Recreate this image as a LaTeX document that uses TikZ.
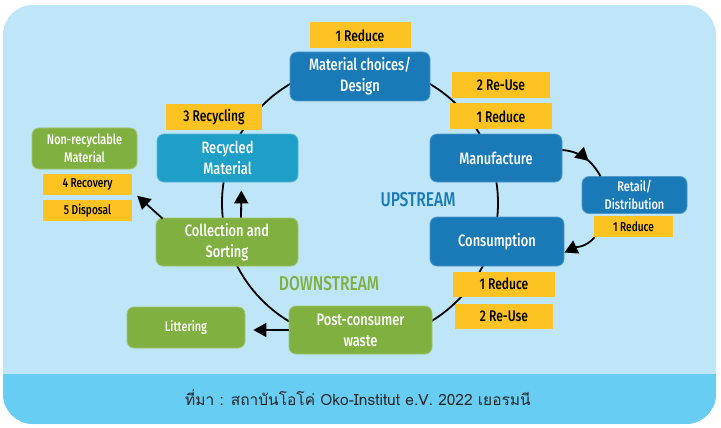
\documentclass[tikz,border=0pt]{standalone}
\usepackage{fontspec}
\setmainfont{Fira Sans}[FakeStretch=0.78,UprightFont=* Medium]
\newfontfamily\thaifont[Script=Thai]{Loma}
\usetikzlibrary{arrows.meta,positioning,decorations.markings}
\definecolor{skyback}{RGB}{190,229,248}
\definecolor{skyfoot}{RGB}{103,205,243}
\definecolor{upblue}{RGB}{26,122,184}
\definecolor{tealblue}{RGB}{30,159,199}
\definecolor{leafgreen}{RGB}{128,176,64}
\definecolor{amber}{RGB}{253,195,35}

\begin{document}
\begin{tikzpicture}[x=1pt,y=-1pt,node distance=4pt and 4pt]

\tikzset{stagenode/.style={shape=rectangle,rounded corners=7pt,fill=#1,draw=#1!75!white,line width=0.8pt,text=white,align=center,inner sep=1pt,font=\fontsize{16.5}{21}\selectfont},
smallstage/.style={stagenode=#1,font=\fontsize{14}{18.5}\selectfont},
tagnode/.style={fill=amber,text=black,inner sep=0pt,font=\fontsize{15.5}{16}\selectfont},
smalltag/.style={tagnode,font=\fontsize{13}{14}\selectfont},
cycleline/.style={line width=1.8pt},
arrowline/.style={cycleline,-{Triangle[length=13pt,width=14pt]}},
midarrow/.style={cycleline,postaction={decorate},decoration={markings,mark=at position 0.6 with {\arrow{Triangle[length=13pt,width=14pt]}}}}}

\useasboundingbox (0,0) rectangle (721,428);

% Background
\fill[skyback,rounded corners=30pt] (3,5) rectangle (716,424);
\begin{scope}
\clip[rounded corners=30pt] (3,5) rectangle (716,424);
\fill[skyfoot] (3,374) rectangle (716,424);
\end{scope}

% Cycle
\coordinate (hub) at (360,203);
\draw[cycleline] (hub) circle[radius=138pt];

% Upstream stages
\node[stagenode=upblue,minimum width=140pt,minimum height=49pt] (design) at (360,76.5) {Material choices/\\Design};
\node[stagenode=upblue,minimum width=132pt,minimum height=48pt] (manuf) at (496,158) {Manufacture};
\node[smallstage=upblue,minimum width=105pt,minimum height=37pt] (retail) at (634.5,195) {Retail/\\Distribution};
\node[stagenode=upblue,minimum width=134pt,minimum height=49pt] (cons) at (497,241.5) {Consumption};

% Downstream stages
\node[stagenode=leafgreen,minimum width=143pt,minimum height=48pt] (post) at (360.5,330) {Post-consumer\\waste};
\node[smallstage=leafgreen,minimum width=118pt,minimum height=41pt] (litter) at (186,327.5) {Littering};
\node[stagenode=leafgreen,minimum width=142pt,minimum height=48pt] (coll) at (227,242) {Collection and\\Sorting};
\node[smallstage=leafgreen,minimum width=105pt,minimum height=41pt] (nonrec) at (84.5,148.5) {Non-recyclable\\Material};
\node[stagenode=tealblue,minimum width=141pt,minimum height=48pt] (recycled) at (227.5,158) {Recycled\\Material};

% R-strategy tags
\node[tagnode,minimum width=101pt,minimum height=26pt,above=3pt of design] (cutA) {1 Reduce};
\node[tagnode,minimum width=96pt,minimum height=26pt] (recyc) at (214,117) {3 Recycling};
\node[tagnode,minimum width=102pt,minimum height=26pt,above=4pt of manuf,xshift=5pt] (cutB) {1 Reduce};
\node[tagnode,minimum width=98pt,minimum height=26pt,above=5pt of cutB] (reuseB) {2 Re-Use};
\node[smalltag,minimum width=79pt,minimum height=21pt,below=2pt of retail,xshift=-1pt] (cutC) {1 Reduce};
\node[tagnode,minimum width=102pt,minimum height=25pt,below=5pt of cons,xshift=7pt] (cutD) {1 Reduce};
\node[tagnode,minimum width=98pt,minimum height=25pt,below=7pt of cutD] (reuseD) {2 Re-Use};
\node[smalltag,minimum width=89pt,minimum height=21pt,below=4pt of nonrec,xshift=3pt] (rec4) {4 Recovery};
\node[smalltag,minimum width=89pt,minimum height=21pt,below=5pt of rec4] (disp5) {5 Disposal};

% Arrows
\draw[midarrow] ([yshift=8pt]manuf.east) to[out=-5,in=120] ([xshift=-34pt]retail.north);
\draw[arrowline] ([xshift=-39pt]cutC.south) to[out=-130,in=25] ([yshift=-11pt]cons.east);
\draw[arrowline,shorten >=8pt] (post.west) -- (litter.east |- post.west);
\draw[arrowline,shorten >=8pt] ([xshift=14pt]coll.north) -- ([xshift=14pt]recycled.south);
\draw[arrowline] ([xshift=7pt,yshift=-1pt]coll.north west) -- ([xshift=5pt,yshift=-1pt]rec4.south east);

% Labels
\node[text=upblue,font=\fontsize{20}{22}\selectfont] (upLabel) at (418,200) {UPSTREAM};
\node[text=leafgreen,font=\fontsize{20}{22}\selectfont] (downLabel) at (329,284) {DOWNSTREAM};
\node[text=black!85,font=\thaifont\fontsize{15.5}{17}\selectfont] (source) at (358,398) {ที่มา : สถาบันโอโค่ Oko-Institut e.V. 2022 เยอรมนี};

\end{tikzpicture}
\end{document}
